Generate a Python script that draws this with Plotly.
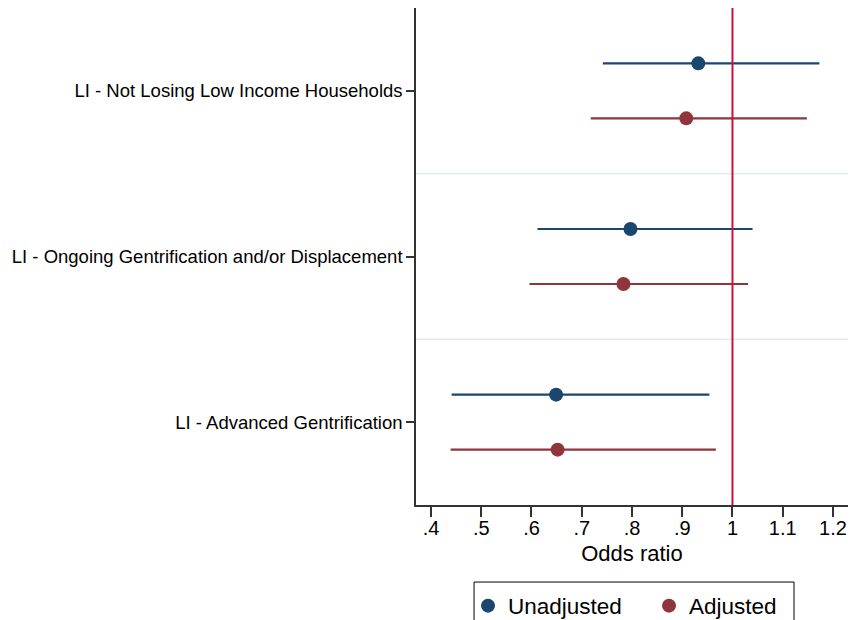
import plotly.graph_objects as go

categories = ["LI - Not Losing Low Income Households",
              "LI - Ongoing Gentrification and/or Displacement",
              "LI - Advanced Gentrification"]
cat_pos = [3, 2, 1]

unadj_or = [0.932, 0.797, 0.649]
unadj_lo = [0.742, 0.612, 0.441]
unadj_hi = [1.173, 1.040, 0.954]

adj_or = [0.908, 0.783, 0.652]
adj_lo = [0.718, 0.596, 0.439]
adj_hi = [1.148, 1.031, 0.967]

offset = 0.166
x_ticks = [0.4, 0.5, 0.6, 0.7, 0.8, 0.9, 1.0, 1.1, 1.2]
x_ticklabels = [".4", ".5", ".6", ".7", ".8", ".9", "1", "1.1", "1.2"]

BLUE = "#1a476f"
RED = "#90353b"
REF = "#d0103a"

fig = go.Figure()

def add_series(name, ors, los, his, color, off):
    fig.add_trace(go.Scatter(
        x=ors, y=[p + off for p in cat_pos], mode="markers", name=name,
        marker=dict(color=color, size=14),
        error_x=dict(type="data", symmetric=False,
                     array=[h - o for h, o in zip(his, ors)],
                     arrayminus=[o - l for o, l in zip(ors, los)],
                     color=color, thickness=2.2, width=0),
    ))

add_series("Unadjusted", unadj_or, unadj_lo, unadj_hi, BLUE, offset)
add_series("Adjusted", adj_or, adj_lo, adj_hi, RED, -offset)

# separators between groups
for yv in [1.5, 2.5]:
    fig.add_shape(type="line", xref="paper", x0=0, x1=1, yref="y", y0=yv, y1=yv,
                  line=dict(color="#e3ebf0", width=1.5), layer="below")
# reference line at OR = 1
fig.add_shape(type="line", xref="x", x0=1, x1=1, yref="paper", y0=0, y1=1,
              line=dict(color=REF, width=2), layer="above")
# legend frame
fig.add_shape(type="rect", xref="paper", yref="paper",
              x0=0.1343, x1=0.875, y0=-0.155, y1=-0.30,
              line=dict(color="black", width=1), fillcolor="rgba(0,0,0,0)", layer="above")

fig.update_layout(
    width=840, height=612,
    margin=dict(l=408, r=0, t=0, b=115, autoexpand=False),
    paper_bgcolor="white", plot_bgcolor="white",
    font=dict(family="Liberation Sans, Arial, sans-serif", color="black"),
    showlegend=True,
    legend=dict(orientation="h", x=0.1204, xanchor="left", y=-0.16, yanchor="top",
                borderwidth=0, bgcolor="rgba(0,0,0,0)",
                font=dict(size=22.5), entrywidth=136, itemwidth=30),
)
fig.update_xaxes(range=[0.37015, 1.2299], tickvals=x_ticks, ticktext=x_ticklabels,
                 showgrid=False, zeroline=False, showline=True, linecolor="#333",
                 linewidth=1.5, ticks="outside", ticklen=10, tickwidth=1.5,
                 tickcolor="#333", tickfont=dict(size=20), automargin=False,
                 ticklabelstandoff=-6, ticklabeloverflow="allow",
                 title=dict(text="Odds ratio", font=dict(size=22), standoff=8))
fig.update_yaxes(range=[0.5, 3.5], tickvals=cat_pos, ticktext=categories,
                 showgrid=False, zeroline=False, showline=True, linecolor="#333",
                 linewidth=1.5, ticks="outside", ticklen=8, tickwidth=1.5,
                 tickcolor="#333", tickfont=dict(size=18.5), automargin=False)

fig.write_html("out.html")
